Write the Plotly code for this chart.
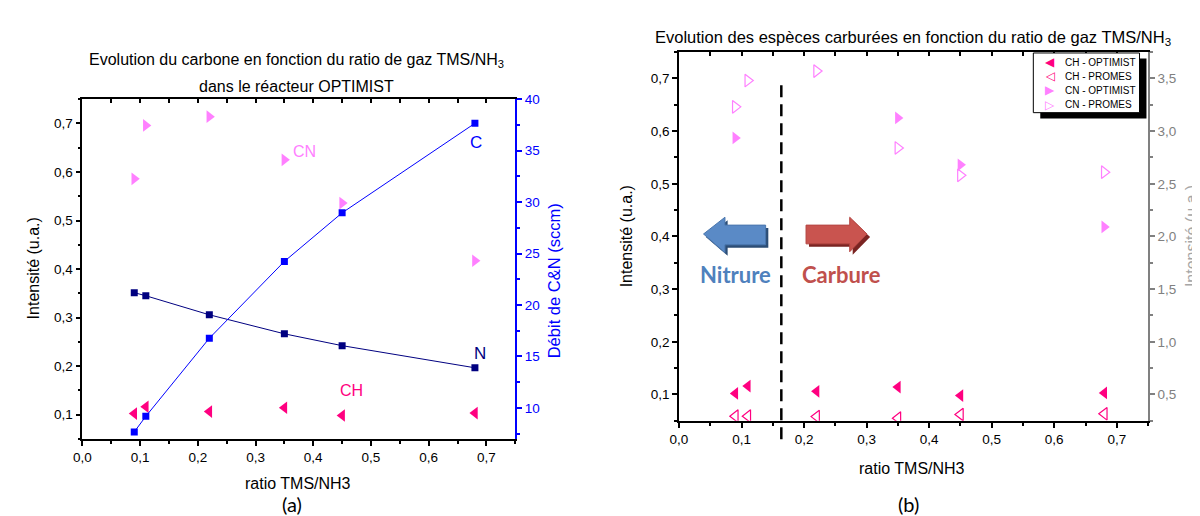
import plotly.graph_objects as go

# --- données -------------------------------------------------------------
ratio = [0.09, 0.11, 0.22, 0.35, 0.45, 0.68]

# (a) réacteur OPTIMIST
ch_optimist = [0.102, 0.116, 0.106, 0.114, 0.098, 0.103]
cn_optimist_a = [0.586, 0.696, 0.714, 0.625, 0.536, 0.417]
debit_c = [7.67, 9.18, 16.77, 24.24, 28.96, 37.66]
debit_n = [21.2, 20.9, 19.05, 17.2, 16.05, 13.9]

# (b) OPTIMIST (axe gauche) / PROMES (axe droit)
ratio_cn_optimist_b = [0.09, 0.35, 0.45, 0.68]
cn_optimist_b = [0.587, 0.625, 0.536, 0.418]
ch_promes = [0.294, 0.294, 0.29, 0.275, 0.31, 0.317]
cn_promes = [3.23, 3.48, 3.57, 2.84, 2.58, 2.61]

seuil_nitrure_carbure = 0.1636

W, H = 1200, 516
FONT = "Liberation Sans, Arial, sans-serif"
CALIBRI = "Lato, Open Sans, sans-serif"
PINK = "#ff80ff"
DEEP_PINK = "#ff0080"


def px(x):
    return x / W


def py(y):
    return 1 - y / H


def poly(points):
    return "M " + " L ".join(f"{px(x):.5f},{py(y):.5f}" for x, y in points) + " Z"


fig = go.Figure()

# --- panneau (a) -----------------------------------------------------------
fig.add_trace(go.Scatter(x=ratio, y=cn_optimist_a, mode="markers", xaxis="x", yaxis="y",
                         marker=dict(symbol="triangle-right", size=11, color=PINK), showlegend=False))
fig.add_trace(go.Scatter(x=ratio, y=ch_optimist, mode="markers", xaxis="x", yaxis="y",
                         marker=dict(symbol="triangle-left", size=11, color=DEEP_PINK), showlegend=False))
fig.add_trace(go.Scatter(x=ratio, y=debit_n, mode="lines+markers", xaxis="x", yaxis="y2",
                         line=dict(color="#000080", width=1),
                         marker=dict(symbol="square", size=7, color="#000080"), showlegend=False))
fig.add_trace(go.Scatter(x=ratio, y=debit_c, mode="lines+markers", xaxis="x", yaxis="y2",
                         line=dict(color="#0000ff", width=1),
                         marker=dict(symbol="square", size=7, color="#0000ff"), showlegend=False))
fig.add_trace(go.Scatter(x=[], y=[], xaxis="x3", yaxis="y", showlegend=False, hoverinfo="skip"))

# --- panneau (b) -----------------------------------------------------------
fig.add_trace(go.Scatter(x=ratio, y=cn_promes, mode="markers", xaxis="x2", yaxis="y4", name="CN - PROMES",
                         marker=dict(symbol="triangle-right-open", size=11, color=PINK, line=dict(width=1.2)),
                         showlegend=False))
fig.add_trace(go.Scatter(x=ratio, y=ch_promes, mode="markers", xaxis="x2", yaxis="y4", name="CH - PROMES",
                         marker=dict(symbol="triangle-left-open", size=11, color=DEEP_PINK, line=dict(width=1.2)),
                         showlegend=False))
fig.add_trace(go.Scatter(x=ratio_cn_optimist_b, y=cn_optimist_b, mode="markers", xaxis="x2", yaxis="y3",
                         name="CN - OPTIMIST", marker=dict(symbol="triangle-right", size=11, color=PINK),
                         showlegend=False))
fig.add_trace(go.Scatter(x=ratio, y=ch_optimist, mode="markers", xaxis="x2", yaxis="y3", name="CH - OPTIMIST",
                         marker=dict(symbol="triangle-left", size=11, color=DEEP_PINK), showlegend=False))
fig.add_trace(go.Scatter(x=[], y=[], xaxis="x4", yaxis="y3", showlegend=False, hoverinfo="skip"))

tickfont = dict(family=FONT, size=13.5, color="black")
base = dict(showline=True, linecolor="black", linewidth=1.5, ticks="outside", ticklen=5, tickwidth=1.5,
            tickcolor="black", showgrid=False, zeroline=False, tickfont=tickfont)
minor_x = dict(dtick=0.05, ticklen=3, ticks="outside", tickwidth=1.5, tickcolor="black")
top = dict(side="top", range=[0, 0.75], dtick=0.05, tick0=0, ticks="inside", ticklen=4, tickwidth=1.5,
           tickcolor="black", showticklabels=False, showline=True, linecolor="black", linewidth=1.5,
           showgrid=False, zeroline=False)

dom_ax = [px(65.8), px(502.1)]
dom_ay = [py(429.6), py(85.4)]
dom_bx = [px(667), px(1139.6)]
dom_by = [py(411.4), py(37.6)]

fig.update_layout(
    width=W, height=H, margin=dict(l=0, r=0, t=0, b=0),
    plot_bgcolor="white", paper_bgcolor="white", separators=", ",
    showlegend=False,
    xaxis=dict(domain=dom_ax, anchor="y", range=[0, 0.75], dtick=0.1, tick0=0, tickformat=".1f",
               minor=minor_x, **base),
    xaxis3=dict(overlaying="x", anchor="y", **top),
    yaxis=dict(domain=dom_ay, anchor="x", range=[0.05, 0.75], dtick=0.1, tick0=0, tickformat=".1f",
               minor=dict(dtick=0.05, ticklen=3, ticks="outside", tickwidth=1.5, tickcolor="black"), **base),
    yaxis2=dict(overlaying="y", side="right", anchor="x", range=[7, 40], dtick=5, tick0=0,
                showline=True, linecolor="blue", linewidth=1.5, ticks="outside", ticklen=5, tickwidth=1.5,
                tickcolor="blue", showgrid=False, zeroline=False,
                tickfont=dict(family=FONT, size=13.5, color="blue"),
                minor=dict(dtick=2.5, ticklen=3, ticks="outside", tickwidth=1.5, tickcolor="blue")),
    xaxis2=dict(domain=dom_bx, anchor="y3", range=[0, 0.75], dtick=0.1, tick0=0, tickformat=".1f",
                minor=minor_x, **base),
    xaxis4=dict(overlaying="x2", anchor="y3", **top),
    yaxis3=dict(domain=dom_by, anchor="x2", range=[0.05, 0.75], dtick=0.1, tick0=0, tickformat=".1f",
                minor=dict(dtick=0.05, ticklen=3, ticks="outside", tickwidth=1.5, tickcolor="black"), **base),
    yaxis4=dict(overlaying="y3", side="right", anchor="x2", range=[0.25, 3.75], dtick=0.5, tick0=0,
                tickformat=".1f", showline=True, linecolor="#808080", linewidth=1.5, ticks="outside",
                ticklen=5, tickwidth=1.5, tickcolor="#808080", showgrid=False, zeroline=False,
                tickfont=dict(family=FONT, size=13.5, color="#808080"),
                minor=dict(dtick=0.25, ticklen=3, ticks="outside", tickwidth=1.5, tickcolor="#808080")),
)

ann = []


def text(x, y, s, size=15, color="black", family=FONT, angle=0, xanchor="center"):
    ann.append(dict(x=px(x), y=py(y), xref="paper", yref="paper", text=s, showarrow=False,
                    textangle=angle, font=dict(family=family, size=size, color=color),
                    xanchor=xanchor, yanchor="middle"))


# titres et axes (a)
text(282, 46, "Evolution du carbone en fonction du ratio de gaz TMS/NH<sub>3</sub>", 16)
text(282, 72, "dans le réacteur OPTIMIST", 16)
text(283, 475, "ratio TMS/NH3", 16)
text(17, 257, "Intensité (u.a.)", 16, angle=-90)
text(541, 269, "Débit de C&N (sccm)", 16.5, color="blue", angle=-90)
text(277, 496, "(a)", 20, family=CALIBRI)
text(290, 138, "CN", 16, color=PINK)
text(462, 129, "C", 17, color="blue")
text(466, 343, "N", 17, color="#000080")
text(337, 381, "CH", 16, color=DEEP_PINK)

# titres et axes (b)
text(903, 23, "Evolution des espèces carburées en fonction du ratio de gaz TMS/NH<sub>3</sub>", 16.5)
text(902, 460, "ratio TMS/NH3", 16)
text(615, 224, "Intensité (u.a.)", 16, angle=-90)
text(1184, 224, "Intensité (u.a.)", 16, color="#a6a6a6", angle=-90)
text(898, 496, "(b)", 20, family=CALIBRI)
text(724, 263, "<b>Nitrure</b>", 22, color="#4f81bd", family=CALIBRI)
text(831, 263, "<b>Carbure</b>", 22, color="#c0504d", family=CALIBRI)

# légende (b)
legend_items = [("◀", DEEP_PINK, "CH - OPTIMIST"), ("◁", DEEP_PINK, "CH - PROMES"),
                ("▶", PINK, "CN - OPTIMIST"), ("▷", PINK, "CN - PROMES")]
for i, (sym, col, lab) in enumerate(legend_items):
    yy = 47.7 + i * 14.4
    text(1041, yy, sym, 12, color=col, family="DejaVu Sans")
    text(1054, yy, lab, 10, xanchor="left")

fig.update_layout(annotations=ann)

shapes = [
    # ombre + cadre de la légende
    dict(type="rect", xref="paper", yref="paper", x0=px(1031), x1=px(1138), y0=py(105), y1=py(44),
         fillcolor="black", line=dict(width=0), layer="above"),
    dict(type="rect", xref="paper", yref="paper", x0=px(1024), x1=px(1131), y0=py(99), y1=py(38.5),
         fillcolor="white", line=dict(color="black", width=1), layer="above"),
    # séparation nitrure / carbure
    dict(type="line", xref="x2", yref="paper", x0=seuil_nitrure_carbure, x1=seuil_nitrure_carbure,
         y0=py(430), y1=py(68), line=dict(color="black", width=2.5, dash="12px,7px")),
    # flèche bleue (ombre puis corps)
    dict(type="path", xref="paper", yref="paper", fillcolor="#2c4d75", line=dict(width=0),
         path=poly([(694, 225), (716, 208), (716, 216), (757, 216), (757, 236), (716, 236), (716, 244)])),
    dict(type="path", xref="paper", yref="paper", fillcolor="#5a8ac6", line=dict(color="#4a76ad", width=1),
         path=poly([(691.7, 222), (713.3, 205), (713.3, 213), (754.3, 213), (754.3, 233), (713.3, 233),
                    (713.3, 241)])),
    # flèche rouge
    dict(type="path", xref="paper", yref="paper", fillcolor="#7a2422", line=dict(width=0),
         path=poly([(798, 216), (842, 216), (842, 208), (859.5, 225), (842, 243), (842, 235), (798, 235)])),
    dict(type="path", xref="paper", yref="paper", fillcolor="#c9544f", line=dict(color="#b54743", width=1),
         path=poly([(795, 213), (839, 213), (839, 205), (856.4, 222), (839, 240), (839, 232), (795, 232)])),
]
fig.update_layout(shapes=shapes)

fig.write_html("out.html")
